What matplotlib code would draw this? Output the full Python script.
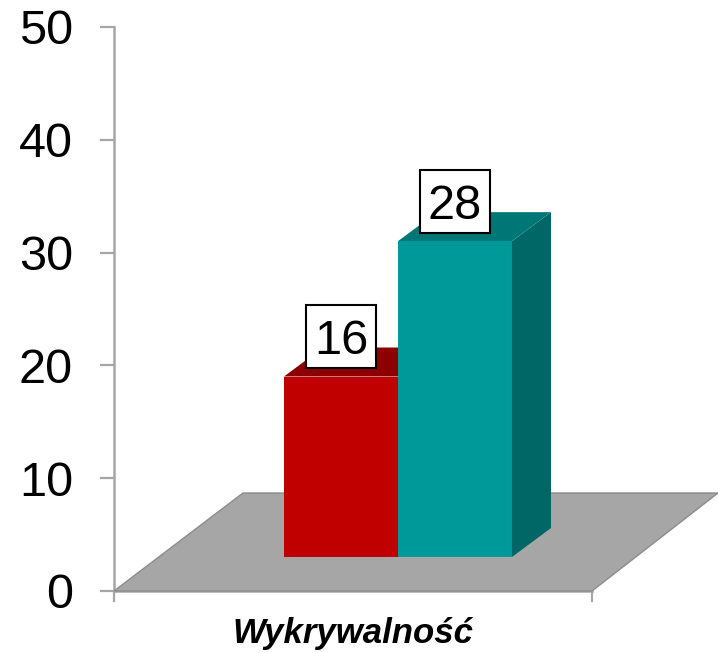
import matplotlib
matplotlib.use("Agg")
import matplotlib.pyplot as plt
from matplotlib.patches import Polygon, Rectangle

categories = ["Wykrywalność"]
series_values = [16, 28]
series_front = ["#C00000", "#009999"]
series_top = ["#8C0000", "#007777"]
series_side = ["#8C0000", "#006666"]
y_ticks = [0, 10, 20, 30, 40, 50]

W, H = 718, 653
PX_Y = 11.28
PX_X = 478.0
X0, Y0 = 114, 591

plt.rcParams["font.family"] = ["Liberation Sans", "DejaVu Sans"]
fig = plt.figure(figsize=(W / 100, H / 100), dpi=100)
ax = fig.add_axes([0, 0, 1, 1])
ax.set_xlim(-X0 / PX_X, (W - X0) / PX_X)
ax.set_ylim((Y0 - H) / PX_Y, Y0 / PX_Y)
ax.axis("off")

axis_c = "#A6A6A6"
ax.plot([0, 0], [0, 50], color=axis_c, lw=1.8, zorder=1)
ax.plot([0, 1], [0, 0], color=axis_c, lw=1.8, zorder=1)
for t in y_ticks:
    ax.plot([-13 / PX_X, 0], [t, t], color=axis_c, lw=1.6, zorder=1)
    ax.text(-41 / PX_X, t, str(t), ha="right", va="center_baseline", fontsize=35, color="black")
ax.plot([0, 0], [0, -10 / PX_Y], color=axis_c, lw=1.6, zorder=1)
ax.plot([1, 1], [0, -10 / PX_Y], color=axis_c, lw=1.6, zorder=1)

# floor
dx_floor, dy_floor = 126 / PX_X, 98 / PX_Y
ax.add_patch(Polygon([(0, 0), (1, 0), (1 + dx_floor, dy_floor), (dx_floor + 3 / PX_X, dy_floor)],
                     closed=True, fc="#A6A6A6", ec="#8C8C8C", lw=1.0, zorder=2))

# bars
base = 34 / PX_Y
bw = 114 / PX_X
left0 = (284 - X0) / PX_X
dx, dy = 39 / PX_X, 29 / PX_Y
box_w, box_h = 70 / PX_X, 63 / PX_Y
for i, (v, f, tc, s) in enumerate(zip(series_values, series_front, series_top, series_side)):
    l = left0 + i * bw
    r = l + bw
    top = base + v
    z = 3 + i
    ax.add_patch(Polygon([(r, base), (r + dx, base + dy), (r + dx, top + dy), (r, top)], closed=True, fc=s, ec="none", zorder=z))
    ax.add_patch(Polygon([(l, top), (r, top), (r + dx, top + dy), (l + dx, top + dy)], closed=True, fc=tc, ec="none", zorder=z))
    ax.add_patch(Polygon([(l, base), (r, base), (r, top), (l, top)], closed=True, fc=f, ec="none", zorder=z + 0.5))
    cx = l + bw / 2
    cy = top + 40 / PX_Y
    ax.add_patch(Rectangle((cx - box_w / 2, cy - box_h / 2), box_w, box_h, fc="white", ec="black", lw=1.5, zorder=10))
    ax.text(cx, cy, str(v), ha="center", va="center_baseline", fontsize=35, color="black", zorder=11)

ax.text(0.5, -52 / PX_Y, categories[0], ha="center", va="baseline", fontsize=25, fontweight="bold", fontstyle="italic", color="black")
fig.savefig("out.png", dpi=100)
